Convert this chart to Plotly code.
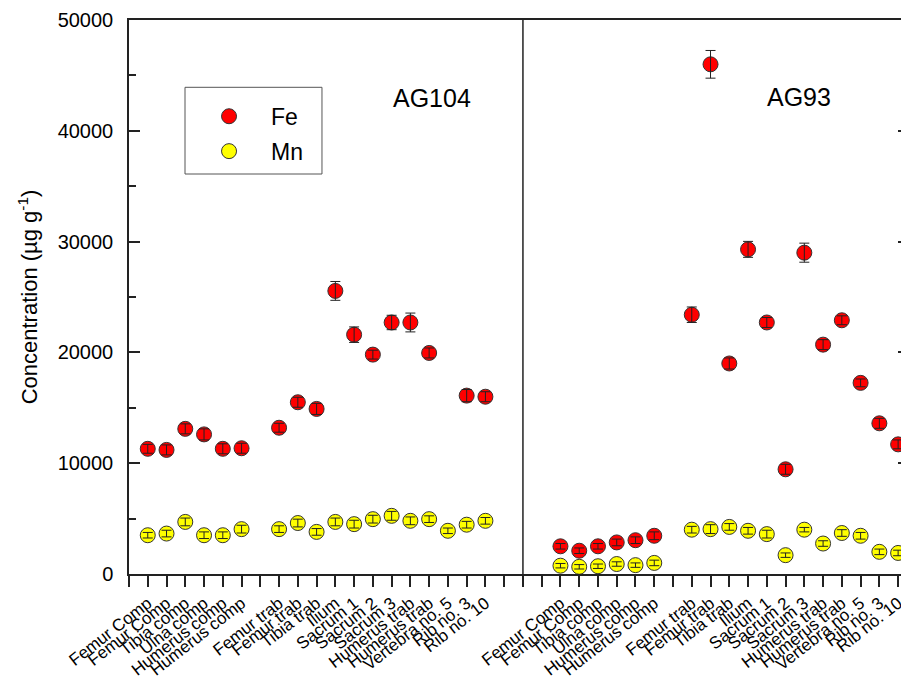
import plotly.graph_objects as go

# ---- data ----
categories = ["Femur Comp", "Femur Comp", "Tibia comp", "Ulna comp", "Humerus comp", "Humerus comp",
              "Femur trab", "Femur trab", "Tibia trab", "Ilium", "Sacrum 1", "Sacrum 2", "Sacrum 3",
              "Humerus trab", "Humerus trab", "Vertebra no. 5", "Rib no. 3", "Rib no. 10"]
samples = ["AG104", "AG93"]

fe_ag104 = [11300, 11200, 13100, 12600, 11300, 11350, 13200, 15500, 14900, 25550, 21600, 19800,
            22700, 22700, 19950, None, 16100, 16000]
fe_ag104_err = [400, 450, 450, 500, 450, 450, 400, 450, 500, 850, 700, 400, 650, 850, 450, None, 550, 450]
mn_ag104 = [3500, 3650, 4700, 3500, 3500, 4050, 4050, 4600, 3800, 4700, 4500, 4950, 5250, 4800, 4950,
            3900, 4450, 4800]
mn_ag104_err = [250, 300, 350, 300, 300, 350, 300, 350, 300, 350, 350, 350, 400, 350, 300, 250, 300, 300]

fe_ag93 = [2500, 2100, 2500, 2850, 3050, 3450, 23400, 46000, 19000, 29300, 22700, 9450, 29000, 20700,
           22900, 17250, 13600, 11700]
fe_ag93_err = [250, 250, 250, 300, 300, 350, 700, 1250, 500, 720, 450, 450, 860, 450, 400, 350, 450, 400]
mn_ag93 = [750, 650, 700, 900, 800, 1000, 4000, 4050, 4250, 3900, 3600, 1700, 4000, 2750, 3700, 3450,
           2000, 1900]
mn_ag93_err = [200, 200, 200, 200, 200, 250, 300, 400, 300, 300, 350, 200, 200, 250, 300, 300, 250, 250]

# ---- slot positions (6 compact bones, gap, 12 trabecular bones; panels 22 slots apart) ----
n_comp = 6
panel_span = 22
def slot(panel, k):
    return 1 + panel * panel_span + (k if k < n_comp else k + 1)

xs = [slot(p, k) for p in range(len(samples)) for k in range(len(categories))]
fe = fe_ag104 + fe_ag93
fe_err = fe_ag104_err + fe_ag93_err
mn = mn_ag104 + mn_ag93
mn_err = mn_ag104_err + mn_ag93_err

x_max = 41.58
tickvals = list(range(0, 42))
label_map = {x: categories[i % len(categories)] for i, x in enumerate(xs)}
ticktext = [label_map.get(v, " ") for v in tickvals]

FONT = "Liberation Sans, Arial, sans-serif"
fig = go.Figure()

series = [("Fe", fe, fe_err, "#FF0000"), ("Mn", mn, mn_err, "#FFFF00")]
for name, vals, errs, col in series:
    fig.add_trace(go.Scatter(
        x=xs, y=vals, mode="markers", name=name, legendgroup=name,
        marker=dict(symbol="circle", size=15, color=col, line=dict(color="#333333", width=1)),
    ))
for name, vals, errs, col in series:
    fig.add_trace(go.Scatter(
        x=xs, y=vals, mode="markers", name=name, legendgroup=name, showlegend=False,
        marker=dict(size=15, color="rgba(0,0,0,0)"),
        error_y=dict(type="data", array=errs, visible=True, color="#222222", thickness=1, width=5),
        hoverinfo="skip",
    ))

# divider between the two samples
fig.add_shape(type="line", xref="x", yref="paper", x0=21, x1=21, y0=0, y1=1,
              line=dict(color="#222222", width=1.5))
# legend frame
fig.add_shape(type="rect", xref="paper", yref="paper", x0=0.0718, x1=0.2474, y0=0.722, y1=0.8785,
              line=dict(color="#555555", width=1), fillcolor="rgba(0,0,0,0)")

fig.add_annotation(text=samples[0], xref="paper", yref="paper", x=0.3885, y=0.888,
                   showarrow=False, font=dict(size=25, color="black", family=FONT))
fig.add_annotation(text=samples[1], xref="paper", yref="paper", x=0.902, y=0.89,
                   showarrow=False, font=dict(size=25, color="black", family=FONT))

fig.update_layout(
    width=901, height=671,
    margin=dict(l=121, r=0, t=12, b=105),
    paper_bgcolor="white", plot_bgcolor="white",
    font=dict(family=FONT, color="black"),
    showlegend=True,
    legend=dict(x=0.0744, y=0.865, xanchor="left", yanchor="top", itemwidth=74,
                font=dict(size=23, family=FONT), bgcolor="rgba(0,0,0,0)",
                borderwidth=0, tracegroupgap=2),
    xaxis=dict(range=[0, x_max], tickmode="array", tickvals=tickvals, ticktext=ticktext,
               tickangle=-38, tickfont=dict(size=17), ticks="outside", ticklen=11,
               tickcolor="#222222", tickwidth=1.5, automargin=False,
               showline=True, linecolor="#222222", linewidth=1.5, mirror=True,
               showgrid=False, zeroline=False),
    xaxis2=dict(range=[0, x_max], overlaying="x", side="top", tickmode="array",
                tickvals=tickvals, ticks="inside", ticklen=10,
                tickcolor="#222222", tickwidth=1.5, showline=False, showgrid=False,
                zeroline=False, showticklabels=False, automargin=False),
    yaxis=dict(range=[0, 50000], tickmode="linear", tick0=0, dtick=10000, ticks="inside",
               tickformat="d", automargin=False,
               ticklen=11, tickwidth=1.5, tickcolor="#222222", tickfont=dict(size=20),
               ticklabelstandoff=10,
               minor=dict(ticks="inside", ticklen=7, dtick=5000, tickcolor="#222222", tickwidth=1.5),
               showline=True, linecolor="#222222", linewidth=1.5, mirror="ticks",
               showgrid=False, zeroline=False,
               title=dict(text="Concentration (µg g<sup>-1</sup>)", font=dict(size=22), standoff=14)),
)

fig.write_html("out.html")
